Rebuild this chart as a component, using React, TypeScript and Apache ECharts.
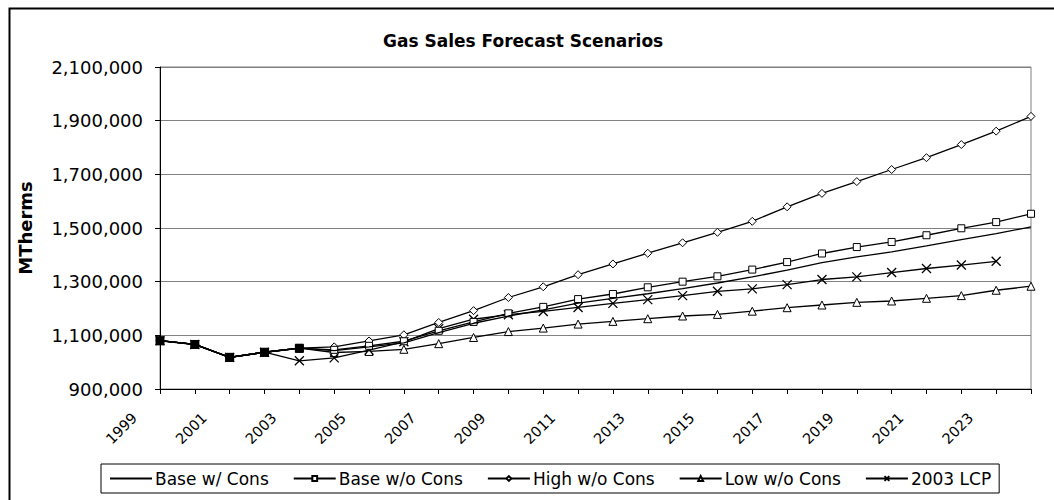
import React, { useEffect, useRef } from "react";
import * as echarts from "echarts";

const years = [
  "1999", "2000", "2001", "2002", "2003", "2004", "2005", "2006", "2007", "2008",
  "2009", "2010", "2011", "2012", "2013", "2014", "2015", "2016", "2017", "2018",
  "2019", "2020", "2021", "2022", "2023", "2024",
];

const baseWithCons = [
  1080000, 1066000, 1018000, 1037000, 1052000, 1043000, 1057000, 1072000, 1110000, 1145000,
  1172000, 1195000, 1220000, 1238000, 1255000, 1274000, 1295000, 1318000, 1343000, 1371000,
  1392000, 1411000, 1433000, 1457000, 1479000, 1504000,
];

const baseWithoutCons = [
  1080000, 1066000, 1018000, 1037000, 1052000, 1046000, 1061000, 1078000, 1117000, 1150000,
  1182000, 1206000, 1235000, 1254000, 1279000, 1300000, 1320000, 1345000, 1373000, 1405000,
  1429000, 1448000, 1473000, 1499000, 1522000, 1553000,
];

const highWithoutCons = [
  1080000, 1066000, 1018000, 1037000, 1052000, 1057000, 1079000, 1102000, 1148000, 1192000,
  1241000, 1281000, 1326000, 1366000, 1406000, 1445000, 1484000, 1525000, 1579000, 1629000,
  1673000, 1718000, 1762000, 1811000, 1861000, 1916000,
];

const lowWithoutCons = [
  1080000, 1066000, 1018000, 1037000, 1052000, 1036000, 1040000, 1048000, 1069000, 1092000,
  1114000, 1127000, 1142000, 1152000, 1162000, 1172000, 1178000, 1190000, 1203000, 1213000,
  1223000, 1228000, 1238000, 1248000, 1268000, 1283000,
];

const lcp2003 = [
  1080000, 1066000, 1018000, 1037000, 1005000, 1016000, 1045000, 1076000, 1125000, 1160000,
  1177000, 1189000, 1204000, 1219000, 1233000, 1248000, 1264000, 1273000, 1289000, 1308000,
  1318000, 1334000, 1349000, 1362000, 1376000, null,
];

// number of historical (shared, solid-marker) years at the start
const historicCount = 5;

const legendNames = ["Base w/ Cons", "Base w/o Cons", "High w/o Cons", "Low w/o Cons", "2003 LCP"];

const yTicks = { min: 900000, max: 2100000, interval: 200000 };

const WIDE = "'DejaVu Sans', Verdana, sans-serif";
const crossPath = "path://M0,0L10,10M10,0L0,10";

export default function App() {
  const ref = useRef<HTMLDivElement>(null);

  useEffect(() => {
    if (!ref.current) return;
    const chart = echarts.init(ref.current, undefined, { renderer: "svg" });

    const markerStyle = {
      color: "#ffffff",
      borderColor: "#000000",
      borderWidth: 1,
    };
    const lineStyle = { color: "#000000", width: 1.3 };

    const historic = baseWithCons.map((v, i) => (i < historicCount ? v : null));

    chart.setOption({
      animation: false,
      backgroundColor: "#ffffff",
      textStyle: { fontFamily: WIDE, color: "#000000" },
      title: {
        text: "Gas Sales Forecast Scenarios",
        left: 378,
        top: 27,
        textStyle: { fontFamily: WIDE, fontSize: 17, fontWeight: "bold", color: "#000000" },
      },
      graphic: [
        {
          type: "rect",
          left: 7,
          top: 6,
          shape: { width: 1080, height: 520 },
          style: { fill: "none", stroke: "#000000", lineWidth: 2 },
          silent: true,
          z: -1,
        },
      ],
      legend: {
        left: 101,
        top: 464,
        padding: [6, 8, 6, 8],
        itemGap: 24,
        itemWidth: 42,
        itemHeight: 6,
        borderColor: "#000000",
        borderWidth: 1,
        textStyle: { fontFamily: WIDE, fontSize: 17, color: "#000000", padding: [0, 0, 0, -2] },
        data: legendNames.map((n, i) =>
          i === 0
            ? { name: n, itemStyle: { color: "rgba(0,0,0,0)", borderColor: "rgba(0,0,0,0)", borderWidth: 0 } }
            : { name: n }
        ),
      },
      grid: {
        left: 160,
        right: 23,
        top: 67,
        bottom: 111,
        show: true,
        borderColor: "#808080",
        borderWidth: 1,
        containLabel: false,
      },
      xAxis: {
        type: "category",
        data: years,
        boundaryGap: false,
        axisLine: { lineStyle: { color: "#000000", width: 1 } },
        axisTick: { show: true, interval: 0, length: 5, lineStyle: { color: "#000000" } },
        axisLabel: {
          interval: 1,
          rotate: 45,
          fontFamily: WIDE,
          fontSize: 14.5,
          color: "#000000",
          margin: 1,
          padding: [0, 36, 0, 0],
        },
        splitLine: { show: false },
      },
      yAxis: {
        type: "value",
        min: yTicks.min,
        max: yTicks.max,
        interval: yTicks.interval,
        name: "MTherms",
        nameLocation: "middle",
        nameGap: 126,
        nameTextStyle: { fontFamily: WIDE, fontSize: 18, fontWeight: "bold", color: "#000000" },
        axisLine: { show: true, lineStyle: { color: "#000000", width: 1 } },
        axisTick: { show: true, length: 5, lineStyle: { color: "#000000" } },
        axisLabel: {
          fontFamily: WIDE,
          fontSize: 18,
          color: "#000000",
          margin: 17,
          formatter: (v: number) => v.toLocaleString("en-US"),
        },
        splitLine: { show: true, lineStyle: { color: "#808080", width: 1 } },
      },
      series: [
        {
          name: "Base w/ Cons",
          type: "line",
          data: baseWithCons,
          symbol: "none",
          lineStyle,
          itemStyle: { color: "#000000" },
          z: 5,
        },
        {
          name: "Base w/o Cons",
          type: "line",
          data: baseWithoutCons,
          symbol: "rect",
          symbolSize: 7,
          showAllSymbol: true,
          lineStyle,
          itemStyle: markerStyle,
          z: 4,
        },
        {
          name: "High w/o Cons",
          type: "line",
          data: highWithoutCons,
          symbol: "diamond",
          symbolSize: 8,
          showAllSymbol: true,
          lineStyle,
          itemStyle: markerStyle,
          z: 3,
        },
        {
          name: "Low w/o Cons",
          type: "line",
          data: lowWithoutCons,
          symbol: "triangle",
          symbolSize: 8,
          showAllSymbol: true,
          lineStyle,
          itemStyle: markerStyle,
          z: 3,
        },
        {
          name: "2003 LCP",
          type: "line",
          data: lcp2003,
          symbol: crossPath,
          symbolSize: 9,
          showAllSymbol: true,
          lineStyle,
          itemStyle: { color: "none", borderColor: "#000000", borderWidth: 1.3 },
          z: 3,
        },
        {
          name: "Historic",
          type: "line",
          data: historic,
          symbol: "rect",
          symbolSize: 8,
          showAllSymbol: true,
          lineStyle: { color: "#000000", width: 1.5 },
          itemStyle: { color: "#000000", borderColor: "#000000" },
          z: 6,
        },
      ],
    });

    return () => chart.dispose();
  }, []);

  return (
    <div
      ref={ref}
      style={{ position: "fixed", left: 0, top: 0, width: 1054, height: 500 }}
    />
  );
}
